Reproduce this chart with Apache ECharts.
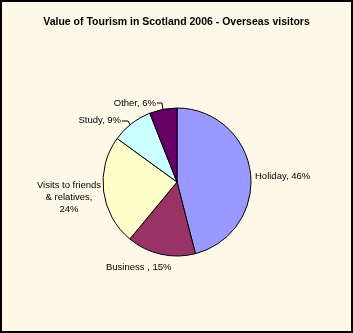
<!DOCTYPE html>
<html><head><meta charset="utf-8">
<script src="https://cdn.jsdelivr.net/npm/echarts@6/dist/echarts.min.js"></script>
<style>html,body{margin:0;padding:0;background:#fff;}#c{width:353px;height:333px;box-sizing:border-box;border:2px solid #000;background:#FEF8E8;}</style>
</head><body><div id="c"></div>
<script>
var categories = ["Holiday", "Business", "Visits to friends & relatives", "Study", "Other"];
var values = [46, 15, 24, 9, 6];
var labelTexts = ["Holiday, 46%", "Business , 15%", "Visits to friends\n& relatives,\n24%", "Study, 9%", "Other, 6%"];
var colors = ["#9999FF", "#993366", "#FFFFCC", "#CCFFFF", "#660066"];
var title = "Value of Tourism in Scotland 2006 - Overseas visitors";

var labelPos = [
  {x: 253, y: 174, align: 'left'},
  {x: 104, y: 265, align: 'left'},
  {x: 67, y: 195, align: 'center'},
  {x: 119, y: 118, align: 'right'},
  {x: 154, y: 101, align: 'right'}
];
var linePts = [null, null, null,
  [[120, 119], [126, 119], [129, 124]],
  [[155, 101], [160, 101], [161, 108]]
];

var chart = echarts.init(document.getElementById('c'), null, {renderer: 'canvas'});
chart.setOption({
  animation: false,
  title: {text: title, left: 'center', top: 10, textStyle: {fontFamily: 'Liberation Sans, Arial', fontSize: 10.5, fontWeight: 'bold', color: '#000'}},
  series: [{
    type: 'pie',
    center: [175, 180],
    radius: 74,
    startAngle: 90,
    clockwise: true,
    data: categories.map(function (c, i) {
      return {name: c, value: values[i], itemStyle: {color: colors[i]},
        label: {formatter: labelTexts[i]}};
    }),
    itemStyle: {borderColor: '#000', borderWidth: 1},
    label: {show: true, position: 'outside', overflow: 'none', width: 200, color: '#000', fontFamily: 'Liberation Sans, Arial', fontSize: 9.5, lineHeight: 12},
    labelLine: {show: true, lineStyle: {color: '#000', width: 1}},
    labelLayout: function (p) {
      var i = p.dataIndex;
      var o = {x: labelPos[i].x, y: labelPos[i].y, align: labelPos[i].align, verticalAlign: 'middle'};
      o.labelLinePoints = linePts[i] || [[0,0],[0,0],[0,0]];
      return o;
    },
    emphasis: {disabled: true}
  }]
});
</script></body></html>
